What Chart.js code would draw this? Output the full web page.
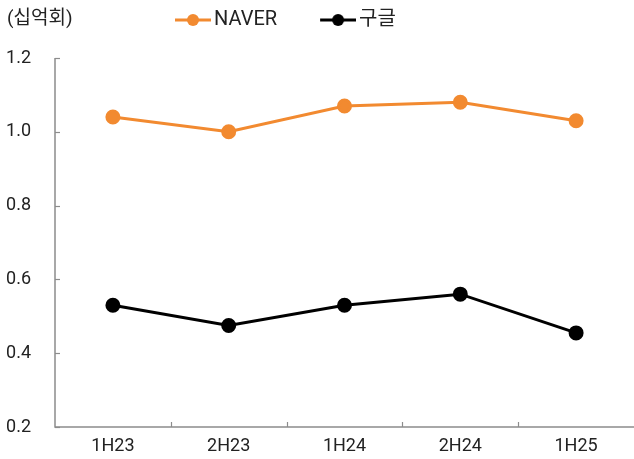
<!DOCTYPE html>
<html>
<head>
<meta charset="utf-8">
<script src="https://cdn.jsdelivr.net/npm/chart.js@4.4.0/dist/chart.umd.min.js"></script>
<style>
  html, body { margin: 0; padding: 0; background: #fff; }
  #wrap { width: 634px; height: 459px; position: relative; }
</style>
</head>
<body>
<div id="wrap"><canvas id="lineChart"></canvas></div>
<script>
// chart data
const periods = ['1H23', '2H23', '1H24', '2H24', '1H25'];
const naverValues = [1.04, 1.00, 1.07, 1.08, 1.03];
const googleValues = [0.53, 0.475, 0.53, 0.56, 0.455];
const unitLabel = '(십억회)';

const FONT = 'Roboto, "Noto Sans CJK KR", sans-serif';
const ORANGE = '#F28A30';
const AXIS_GRAY = '#8c8c8c';
const BOX_W = 62;   // legend box width
const EXT = 7;      // marker pokes out past the box toward the text

function legendMarker(color) {
    const c = document.createElement('canvas');
    c.width = BOX_W + 2 * EXT; c.height = 14;
    const g = c.getContext('2d');
    const x1 = c.width, x0 = x1 - 36;
    g.strokeStyle = color;
    g.lineWidth = 3;
    g.beginPath(); g.moveTo(x0, 7); g.lineTo(x1, 7); g.stroke();
    g.fillStyle = color;
    g.beginPath(); g.arc(x0 + 18, 7, 6, 0, Math.PI * 2); g.fill();
    return c;
}

// legend height fixed, and shifted so its first marker starts near x=175
const legendFix = {
    id: 'legendFix',
    afterInit(chart) {
        const lg = chart.legend;
        const fit = lg.fit;
        lg.fit = function () { fit.call(this); this.height = 58; };
    },
    afterLayout(chart) {
        const lg = chart.legend;
        const pad = 10;
        const lw = lg.lineWidths ? lg.lineWidths[0] : 0;
        const x = (lg.left + pad + lg.right - lw) / 2;
        const shift = (175 + 36 - EXT - BOX_W) - x;
        lg.left += shift;
        lg.right += shift;
    }
};

// axes drawn by hand so the ticks point inward
const axisPlugin = {
    id: 'inwardAxes',
    afterDraw(chart) {
        const { ctx, chartArea, scales } = chart;
        const x = scales.x, y = scales.y;
        ctx.save();
        ctx.strokeStyle = AXIS_GRAY;
        ctx.lineWidth = 1.5;
        ctx.beginPath();
        ctx.moveTo(chartArea.left, chartArea.top);
        ctx.lineTo(chartArea.left, chartArea.bottom);
        ctx.lineTo(chartArea.right, chartArea.bottom);
        ctx.stroke();
        ctx.lineWidth = 1.2;
        y.ticks.forEach(t => {
            const py = Math.round(y.getPixelForValue(t.value)) + 0.5;
            ctx.beginPath();
            ctx.moveTo(chartArea.left, py);
            ctx.lineTo(chartArea.left + 5, py);
            ctx.stroke();
        });
        for (let i = 1; i < periods.length; i++) {
            const px = Math.round((x.getPixelForValue(i - 1) + x.getPixelForValue(i)) / 2) + 0.5;
            ctx.beginPath();
            ctx.moveTo(px, chartArea.bottom);
            ctx.lineTo(px, chartArea.bottom - 5);
            ctx.stroke();
        }
        ctx.fillStyle = '#222';
        ctx.font = '19px ' + FONT;
        ctx.textBaseline = 'middle';
        ctx.textAlign = 'left';
        ctx.fillText(unitLabel, 7, 19);
        ctx.restore();
    }
};

new Chart(document.getElementById('lineChart'), {
    type: 'line',
    data: {
        labels: periods,
        datasets: [
            { label: 'NAVER', data: naverValues, borderColor: ORANGE, backgroundColor: ORANGE, borderWidth: 3, pointRadius: 6, pointHoverRadius: 6, tension: 0 },
            { label: '구글', data: googleValues, borderColor: '#000', backgroundColor: '#000', borderWidth: 3, pointRadius: 6, pointHoverRadius: 6, tension: 0 }
        ]
    },
    options: {
        responsive: true,
        maintainAspectRatio: false,
        animation: false,
        layout: { padding: 0, autoPadding: false },
        plugins: {
            tooltip: { enabled: false },
            legend: {
                position: 'top',
                labels: {
                    font: { family: FONT, size: 20 },
                    color: '#222',
                    usePointStyle: true,
                    pointStyleWidth: BOX_W,
                    padding: 10,
                    generateLabels(chart) {
                        return chart.data.datasets.map((ds, i) => ({
                            text: ds.label,
                            pointStyle: legendMarker(ds.borderColor),
                            fillStyle: ds.borderColor,
                            strokeStyle: ds.borderColor,
                            lineWidth: 0,
                            hidden: false,
                            datasetIndex: i,
                            fontColor: '#222'
                        }));
                    }
                }
            }
        },
        scales: {
            x: {
                offset: true,
                grid: { display: false, drawTicks: false },
                border: { display: false },
                ticks: { color: '#222', font: { family: FONT, size: 18 }, padding: 9 },
                afterFit(scale) { scale.height = 32; scale.paddingLeft = 0; scale.paddingRight = 0; }
            },
            y: {
                min: 0.2,
                max: 1.2,
                grid: { display: false, drawTicks: false },
                border: { display: false },
                ticks: { stepSize: 0.2, color: '#222', font: { family: FONT, size: 18 }, padding: 24, callback: v => v.toFixed(1) },
                afterFit(scale) { scale.width = 55; scale.paddingTop = 0; scale.paddingBottom = 0; }
            }
        }
    },
    plugins: [legendFix, axisPlugin]
});
</script>
</body>
</html>
